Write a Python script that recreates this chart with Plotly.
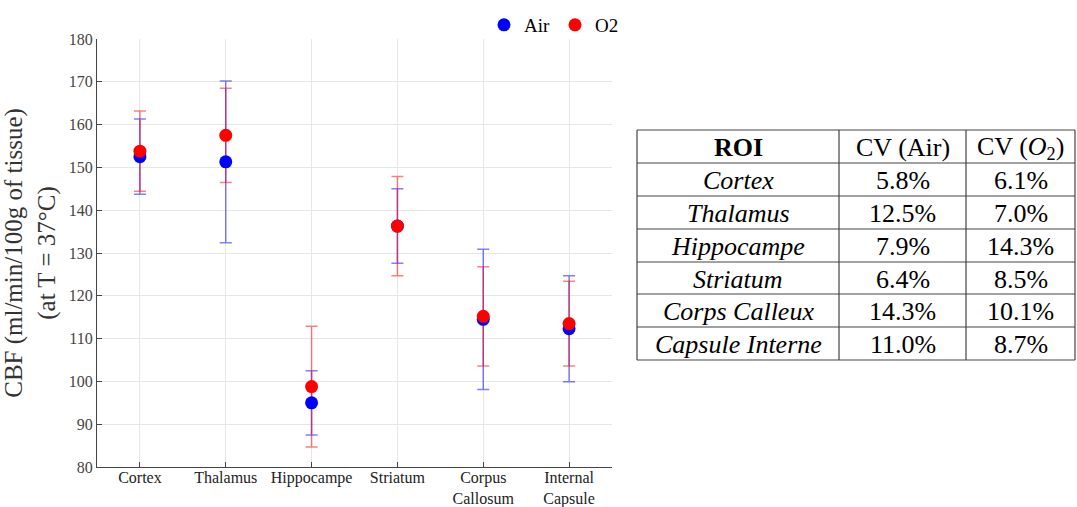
import plotly.graph_objects as go

# Regions of interest (x axis)
regions = ["Cortex", "Thalamus", "Hippocampe", "Striatum", "Corpus<br>Callosum", "Internal<br>Capsule"]

# Mean CBF and standard deviation per region
air_mean = [152.5, 151.3, 95.0, 136.3, 114.5, 112.3]
air_sd = [8.8, 18.9, 7.5, 8.7, 16.4, 12.4]
o2_mean = [153.8, 157.5, 98.8, 136.3, 115.2, 113.5]
o2_sd = [9.4, 11.0, 14.1, 11.6, 11.6, 9.9]

# Coefficient-of-variation table
table_header = ["<b>ROI</b>", "CV (Air)", "CV (<i>O</i><sub>2</sub>)"]
roi_names = ["Cortex", "Thalamus", "Hippocampe", "Striatum", "Corps Calleux", "Capsule Interne"]
cv_air = ["5.8%", "12.5%", "7.9%", "6.4%", "14.3%", "11.0%"]
cv_o2 = ["6.1%", "7.0%", "14.3%", "8.5%", "10.1%", "8.7%"]

SERIF = "Liberation Serif"
BLUE = "#0000ff"
RED = "#ff0000"

W, H = 1077, 507
ML, MR, MT, MB = 97, 465, 39, 40
PW, PH = W - ML - MR, H - MT - MB


def px_x(px):
    """pixel column -> paper x"""
    return (px - ML) / PW


def px_y(py):
    """pixel row -> paper y"""
    return 1 - (py - MT) / PH


fig = go.Figure()

# error bars first, markers on top
for mean, sd, col in [(air_mean, air_sd, "rgba(0,0,255,0.5)"), (o2_mean, o2_sd, "rgba(255,0,0,0.5)")]:
    fig.add_trace(go.Scatter(
        x=regions, y=mean, mode="markers",
        marker=dict(size=1, color="rgba(0,0,0,0)"),
        error_y=dict(type="data", array=sd, color=col, thickness=1.5, width=6),
        showlegend=False, hoverinfo="skip",
    ))

fig.add_trace(go.Scatter(x=regions, y=air_mean, mode="markers", name="Air",
                         marker=dict(size=13, color=BLUE)))
fig.add_trace(go.Scatter(x=regions, y=o2_mean, mode="markers", name="O2",
                         marker=dict(size=13, color=RED)))

# ---- CV table drawn with shapes + annotations in the right margin ----
col_edges = [637, 839, 966, 1075]
row_edges = [130, 163, 196, 229, 262, 294, 327, 360]
line_col = "#444444"
shapes = []
for py in row_edges:
    shapes.append(dict(type="line", xref="paper", yref="paper",
                       x0=px_x(col_edges[0]), x1=px_x(col_edges[-1]), y0=px_y(py), y1=px_y(py),
                       line=dict(color=line_col, width=1.2)))
for px in col_edges:
    shapes.append(dict(type="line", xref="paper", yref="paper",
                       x0=px_x(px), x1=px_x(px), y0=px_y(row_edges[0]), y1=px_y(row_edges[-1]),
                       line=dict(color=line_col, width=1.2)))

annotations = []
rows = [table_header] + [["<i>%s</i>" % r, a, o] for r, a, o in zip(roi_names, cv_air, cv_o2)]
for ri, row in enumerate(rows):
    cy = (row_edges[ri] + row_edges[ri + 1]) / 2 + 1
    for ci, txt in enumerate(row):
        cx = (col_edges[ci] + col_edges[ci + 1]) / 2
        annotations.append(dict(text=txt, xref="paper", yref="paper",
                                x=px_x(cx), y=px_y(cy), xanchor="center", yanchor="middle",
                                showarrow=False,
                                font=dict(family=SERIF, size=26, color="black")))

fig.update_layout(
    width=W, height=H, autosize=False,
    margin=dict(l=ML, r=MR, t=MT, b=MB, autoexpand=False),
    paper_bgcolor="white", plot_bgcolor="white",
    font=dict(family=SERIF, color="#222222"),
    shapes=shapes, annotations=annotations,
    legend=dict(orientation="h", x=px_x(624), xanchor="right", y=px_y(6), yanchor="top",
                font=dict(family=SERIF, size=19, color="black"),
                itemwidth=30, bgcolor="rgba(0,0,0,0)"),
    xaxis=dict(
        range=[-0.5, 5.5], showgrid=True, gridcolor="#e6e6e6", gridwidth=1,
        showline=True, linecolor="#444444", linewidth=1.2,
        ticks="inside", ticklen=5, tickcolor="#444444",
        tickfont=dict(family=SERIF, size=16, color="#222222"),
        ticklabelstandoff=-4,
        zeroline=False, fixedrange=True, automargin=False,
    ),
    yaxis=dict(
        range=[80, 180], dtick=10, showgrid=True, gridcolor="#e6e6e6", gridwidth=1,
        showline=True, linecolor="#444444", linewidth=1.2,
        ticks="inside", ticklen=5, tickcolor="#444444",
        tickfont=dict(family=SERIF, size=16, color="#444444"),
        title=dict(text="CBF (ml/min/100g of tissue)<br>(at T = 37°C)",
                   font=dict(family=SERIF, size=25, color="#333333"), standoff=8),
        zeroline=False, fixedrange=True, automargin=False,
    ),
)

fig.write_html("out.html")
